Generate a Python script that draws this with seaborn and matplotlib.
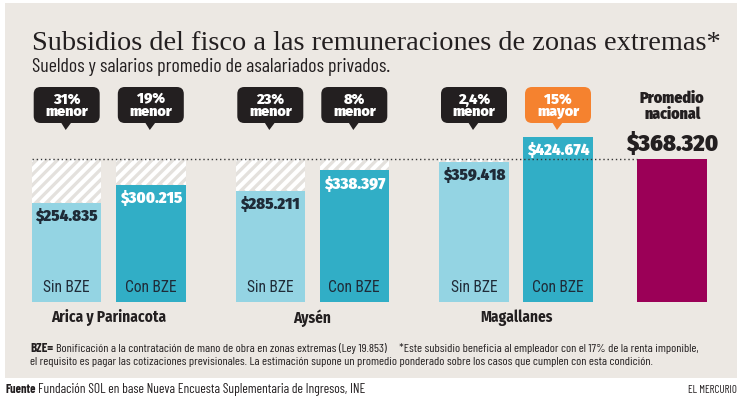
import matplotlib
matplotlib.use("Agg")
import numpy as np
import pandas as pd
import matplotlib.pyplot as plt
import seaborn as sns
from matplotlib.patches import FancyBboxPatch, Polygon, Rectangle

# ---------------- data ----------------
regiones = ["Arica y Parinacota", "Aysén", "Magallanes"]
tipos = ["Sin BZE", "Con BZE"]
sin_bze = [254835, 285211, 359418]
con_bze = [300215, 338397, 424674]
promedio_nacional = 368320
diferencia_pct = ["31%", "19%", "23%", "8%", "2,4%", "15%"]
diferencia_txt = ["menor", "menor", "menor", "menor", "menor", "mayor"]

# ---------------- layout / style ----------------
W, H = 742, 399
bar_x = [66.7, 150.8, 270.3, 354.3, 474.0, 558.0, 672.2]   # bar centres (px)
bar_w_px = 69.5
base_px, avg_px = 302.0, 158.8                            # baseline / average line (px)
ax_top_px = 118.0

BG = "#ECE8E3"
C_SIN = "#94D4E3"
C_CON = "#31AEC6"
C_NAC = "#9B0057"
C_ORANGE = "#F5822F"
C_BLACK = "#231F20"
C_DARK = "#1F2B38"

sns.set_theme(style="white")
plt.rcParams["font.family"] = ["DejaVu Sans"]

fig = plt.figure(figsize=(W / 100, H / 100), dpi=100, facecolor="white")
renderer = fig.canvas.get_renderer()

def fy(y):
    return 1 - y / H

# beige panel
fig.patches.append(Rectangle((5 / W, fy(378)), 732 / W, (378 - 3) / H,
                             transform=fig.transFigure, facecolor=BG,
                             edgecolor="none", zorder=-10))

# main axes (x in px units, y in pesos)
ax = fig.add_axes([0, fy(base_px), 1, (base_px - ax_top_px) / H], zorder=1)
ax.set_facecolor("none")
scale = (base_px - avg_px) / promedio_nacional
ax.set_xlim(0, W)
ax.set_ylim(0, (base_px - ax_top_px) / scale)

rows = []
for i, r in enumerate(regiones):
    rows.append(dict(pos=bar_x[2 * i], valor=sin_bze[i], tipo=tipos[0], region=r))
    rows.append(dict(pos=bar_x[2 * i + 1], valor=con_bze[i], tipo=tipos[1], region=r))
rows.append(dict(pos=bar_x[6], valor=promedio_nacional, tipo="Promedio", region=""))
df = pd.DataFrame(rows)

min_gap = np.min(np.diff(sorted(bar_x)))
sns.barplot(data=df, x="pos", y="valor", hue="tipo",
            palette={"Sin BZE": C_SIN, "Con BZE": C_CON, "Promedio": C_NAC},
            native_scale=True, dodge=False, width=bar_w_px / min_gap,
            saturation=1, errorbar=None, legend=False, linewidth=0, ax=ax)
ax.set_xlim(0, W)
ax.set_ylim(0, (base_px - ax_top_px) / scale)
ax.axis("off")

# overlay axes in pixel coordinates for decorations
ov = fig.add_axes([0, 0, 1, 1], zorder=3)
ov.set_xlim(0, W)
ov.set_ylim(H, 0)
ov.axis("off")
ov.patch.set_alpha(0)

# hatched area between short bars and the national average
for _, row in df.iterrows():
    if row.valor >= promedio_nacional:
        continue
    x0, x1 = row.pos - bar_w_px / 2, row.pos + bar_w_px / 2
    y_top = base_px - promedio_nacional * scale
    y_bot = base_px - row.valor * scale
    clip = Rectangle((x0, y_top), x1 - x0, y_bot - y_top, facecolor="#E4E1DD",
                     edgecolor="none", zorder=1)
    ov.add_patch(clip)
    h = y_bot - y_top
    for c in np.arange(x0 - h - 10, x1 + 10, 10.5):
        ln, = ov.plot([c, c + h], [y_bot, y_top], color="white", lw=3.0,
                      solid_capstyle="butt", zorder=2)
        ln.set_clip_path(clip)

# dotted average line
ov.hlines(avg_px, bar_x[0] - bar_w_px / 2, bar_x[6] - bar_w_px / 2,
          colors="#333333", linestyles=(0, (1, 2)), lw=1.0, zorder=5)

def fit(t, width_px):
    bb = t.get_window_extent(renderer)
    t.set_fontsize(t.get_fontsize() * width_px / bb.width)
    return t

def money(v):
    return "$" + f"{v:,}".replace(",", ".")

heavy = ["Fira Sans Condensed", "DejaVu Sans"]
cond = ["Roboto Condensed", "DejaVu Sans"]
narrow = ["Barlow Condensed", "Roboto Condensed", "DejaVu Sans"]

# value labels inside bars, category labels at bar bottom
for _, row in df.iterrows():
    if row.tipo == "Promedio":
        continue
    col = C_DARK if row.tipo == "Sin BZE" else "white"
    ax.annotate(money(row.valor), (row.pos, row.valor), xytext=(0, -13.5),
                textcoords="offset pixels", ha="center", va="center",
                fontsize=11.8, fontweight=900, color=col, family=heavy, zorder=6)
    ax.annotate(row.tipo, (row.pos, 0), xytext=(0, 14), textcoords="offset pixels",
                ha="center", va="center", fontsize=11.2, color=C_DARK,
                family=cond, zorder=6)

# region names
for i, r in enumerate(regiones):
    cx = (bar_x[2 * i] + bar_x[2 * i + 1]) / 2
    ov.text(cx, 318, r, ha="center", va="center", fontsize=11, fontweight="bold",
            color=C_BLACK, family=heavy)

# callouts
for i in range(6):
    cx = bar_x[i]
    col = C_ORANGE if diferencia_txt[i] == "mayor" else C_BLACK
    ov.add_patch(FancyBboxPatch((cx - 33, 87), 66, 36,
                                boxstyle="round,pad=0,rounding_size=7",
                                facecolor=col, edgecolor="none", zorder=4))
    ov.add_patch(Polygon([(cx - 6, 122), (cx + 5, 122), (cx - 1, 130)],
                         closed=True, facecolor=col, edgecolor="none", zorder=4))
    ov.text(cx, 106, diferencia_pct[i] + "\n" + diferencia_txt[i], ha="center",
            va="center", ma="center", linespacing=0.88, color="white",
            fontsize=10.4, fontweight=900, family=["Fira Sans", "DejaVu Sans"], zorder=5)

# national average labels
t = ov.text(bar_x[6], 106, "Promedio\nnacional", ha="center", va="center",
            ma="center", linespacing=1.0, fontsize=11.4, fontweight=900,
            color=C_BLACK, family=heavy)
t = ov.text(bar_x[6], 143.5, money(promedio_nacional), ha="center", va="center",
            fontsize=17, fontweight=900, color=C_BLACK, family=heavy)
fit(t, 92)

# title and subtitle
t = ov.text(32, 50, "Subsidios del fisco a las remuneraciones de zonas extremas*",
            ha="left", va="baseline", fontsize=19, color=C_BLACK,
            family=["Liberation Serif", "DejaVu Serif"])
fit(t, 690)
t = ov.text(32, 72, "Sueldos y salarios promedio de asalariados privados.",
            ha="left", va="baseline", fontsize=11, color=C_BLACK, family=narrow)
fit(t, 356)

# footnotes
b = ov.text(30, 352, "BZE=", ha="left", va="baseline", fontsize=9.4,
            fontweight="bold", color=C_BLACK, family=narrow)
bb = b.get_window_extent(renderer)
x_after = ov.transData.inverted().transform((bb.x1, 0))[0] + 3
t1 = ov.text(x_after, 352,
             "Bonificación a la contratación de mano de obra en zonas extremas (Ley 19.853)"
             "     *Este subsidio beneficia al empleador con el 17% de la renta imponible,",
             ha="left", va="baseline", fontsize=9.4, color=C_BLACK, family=narrow)
fit(t1, 695 - x_after)
fs = t1.get_fontsize()
ov.text(30, 365,
        "el requisito es pagar las cotizaciones previsionales. La estimación supone un "
        "promedio ponderado sobre los casos que cumplen con esta condición.",
        ha="left", va="baseline", fontsize=fs, color=C_BLACK, family=narrow)

f = ov.text(5, 393, "Fuente", ha="left", va="baseline", fontsize=fs,
            fontweight="bold", color=C_BLACK, family=narrow)
bb = f.get_window_extent(renderer)
x_after = ov.transData.inverted().transform((bb.x1, 0))[0] + 3
t2 = ov.text(x_after, 393, "Fundación SOL en base Nueva Encuesta Suplementaria de Ingresos, INE",
             ha="left", va="baseline", fontsize=fs, color=C_BLACK, family=narrow)
fit(t2, 367 - x_after)
ov.text(737, 393, "EL MERCURIO", ha="right", va="baseline", fontsize=fs * 0.9,
        color=C_BLACK, family=narrow)

fig.savefig("out.png", dpi=100, facecolor="white")
